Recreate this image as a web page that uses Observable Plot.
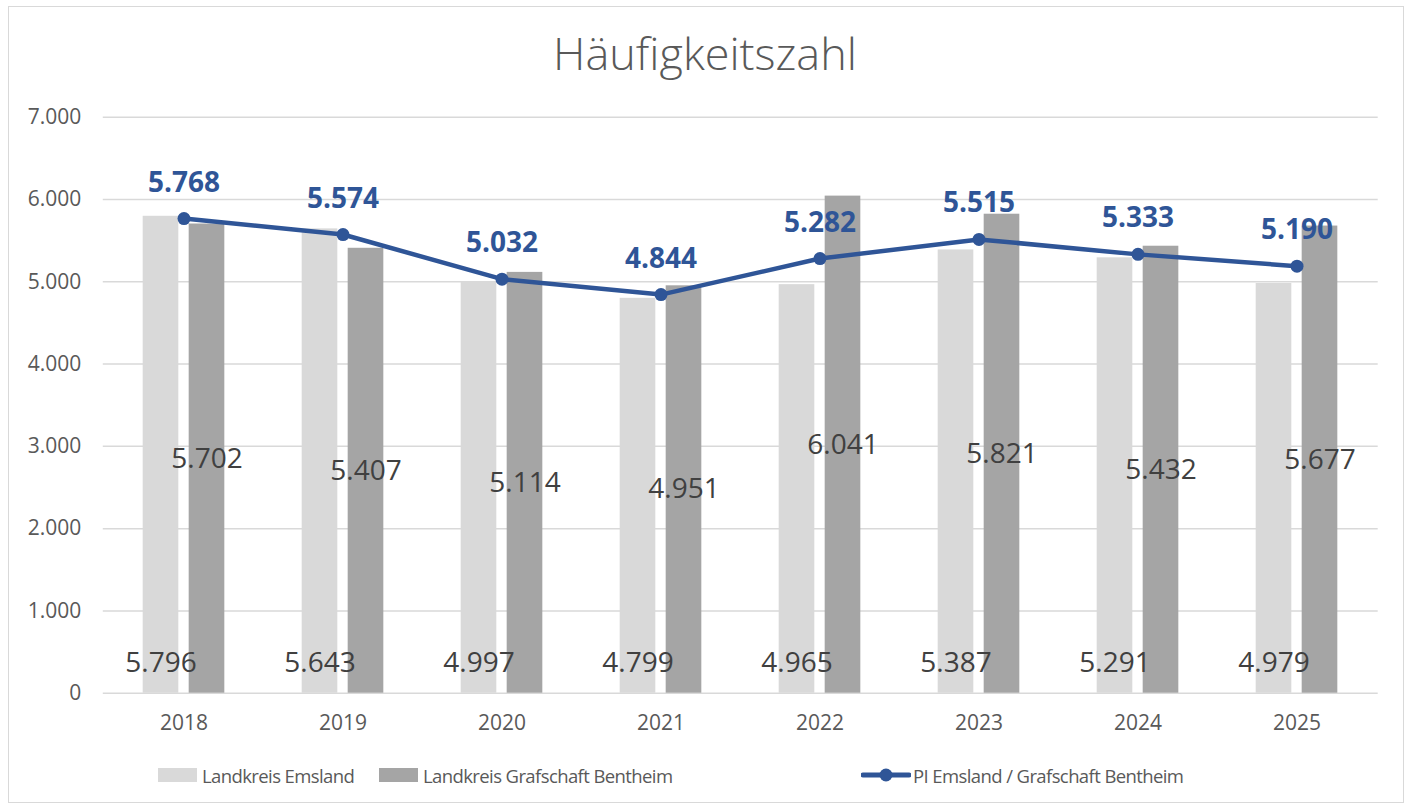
<!DOCTYPE html>
<html>
<head>
<meta charset="utf-8">
<script src="https://cdn.jsdelivr.net/npm/d3@7"></script>
<script src="https://cdn.jsdelivr.net/npm/@observablehq/plot@0.6"></script>
<style>
  html, body { margin: 0; padding: 0; background: #fff; }
  #wrap { position: relative; width: 1410px; height: 809px; font-family: "Open Sans", sans-serif; overflow: hidden; }
  #frame { position: absolute; left: 8px; top: 6px; width: 1396px; height: 797px; border: 1.5px solid #D9D9D9; box-sizing: border-box; }
  #title { position: absolute; left: 0; width: 1410px; top: 22px; text-align: center; font-size: 45px; font-weight: 300; color: #595959; }
  #chart { position: absolute; left: 0; top: 90px; }
  #legend { position: absolute; top: 760px; left: 0; width: 1410px; height: 30px; font-size: 18.5px; letter-spacing: -0.6px; color: #595959; }
  .item { position: absolute; top: 0; display: flex; align-items: center; height: 30px; }
  .sw { width: 39px; height: 14px; margin-right: 5px; }
</style>
</head>
<body>
<div id="wrap">
  <div id="frame"></div>
  <div id="title">Häufigkeitszahl</div>
  <div id="chart"></div>
  <div id="legend"></div>
</div>
<script>
const years = ["2018", "2019", "2020", "2021", "2022", "2023", "2024", "2025"];
const emsland = [5796, 5643, 4997, 4799, 4965, 5387, 5291, 4979];
const bentheim = [5702, 5407, 5114, 4951, 6041, 5821, 5432, 5677];
const pi = [5768, 5574, 5032, 4844, 5282, 5515, 5333, 5190];
const seriesNames = ["Landkreis Emsland", "Landkreis Grafschaft Bentheim", "PI Emsland / Grafschaft Bentheim"];
const yTicks = [0, 1000, 2000, 3000, 4000, 5000, 6000, 7000];

const colLight = "#D9D9D9", colDark = "#A5A5A5", colLine = "#2F5597";
const de = d3.formatLocale({decimal: ",", thousands: ".", grouping: [3], currency: ["", "€"]});
const fmt = de.format(",");

const dataE = years.map((y, i) => ({year: y, v: emsland[i]}));
const dataB = years.map((y, i) => ({year: y, v: bentheim[i]}));
const dataP = years.map((y, i) => ({year: y, v: pi[i]}));

const W = 1410, H = 660;
const mL = 102.8, mR = 32.3, mT = 26.7, mB = 57.3;
const band = (W - mL - mR) / years.length;
const half = band / 2;

const chart = Plot.plot({
  width: W, height: H,
  marginLeft: mL, marginRight: mR, marginTop: mT, marginBottom: mB,
  style: {fontFamily: "Open Sans, sans-serif", background: "transparent"},
  x: {type: "band", domain: years, padding: 0, label: null, tickSize: 0, tickPadding: 22},
  y: {domain: [0, 7000], label: null, ticks: yTicks, tickFormat: fmt, tickSize: 0, tickPadding: 22},
  marks: [
    Plot.ruleY(yTicks, {stroke: "#D9D9D9", strokeWidth: 1.5}),
    Plot.barY(dataE, {x: "year", y: "v", fill: colLight, insetLeft: half - 41, insetRight: half + 5}),
    Plot.barY(dataB, {x: "year", y: "v", fill: colDark, insetLeft: half + 5, insetRight: half - 41}),
    Plot.axisX({tickSize: 0, tickPadding: 22, fontSize: 21, fill: "#595959", label: null}),
    Plot.axisY({ticks: yTicks, tickFormat: fmt, tickSize: 0, tickPadding: 22, fontSize: 21, fill: "#595959", label: null}),
    Plot.text(dataE, {x: "year", y: 0, text: d => fmt(d.v), dx: -23, dy: -30, fontSize: 28, fill: "#404040"}),
    Plot.text(dataB, {x: "year", y: d => d.v / 2, text: d => fmt(d.v), dx: 23, fontSize: 28, fill: "#404040"}),
    Plot.line(dataP, {x: "year", y: "v", stroke: colLine, strokeWidth: 4.5, strokeLinejoin: "round"}),
    Plot.dot(dataP, {x: "year", y: "v", r: 6.5, fill: colLine, stroke: "none"}),
    Plot.text(dataP, {x: "year", y: "v", text: d => fmt(d.v), dy: -36, fontSize: 28, fontWeight: "bold", fill: colLine})
  ]
});
document.getElementById("chart").appendChild(chart);

const legend = document.getElementById("legend");
const items = [
  {left: 158, name: seriesNames[0], kind: "bar", color: colLight},
  {left: 379, name: seriesNames[1], kind: "bar", color: colDark},
  {left: 861, name: seriesNames[2], kind: "line", color: colLine}
];
for (const it of items) {
  const d = document.createElement("div");
  d.className = "item";
  d.style.left = it.left + "px";
  if (it.kind === "bar") {
    const s = document.createElement("div");
    s.className = "sw";
    s.style.background = it.color;
    d.appendChild(s);
  } else {
    const svg = d3.create("svg").attr("width", 50).attr("height", 16).style("margin-right", "2px");
    svg.append("line").attr("x1", 2).attr("x2", 48).attr("y1", 8).attr("y2", 8).attr("stroke", it.color).attr("stroke-width", 5).attr("stroke-linecap", "round");
    svg.append("circle").attr("cx", 25).attr("cy", 8).attr("r", 6.5).attr("fill", it.color);
    d.appendChild(svg.node());
  }
  const t = document.createElement("span");
  t.textContent = it.name;
  d.appendChild(t);
  legend.appendChild(d);
}
</script>
</body>
</html>
